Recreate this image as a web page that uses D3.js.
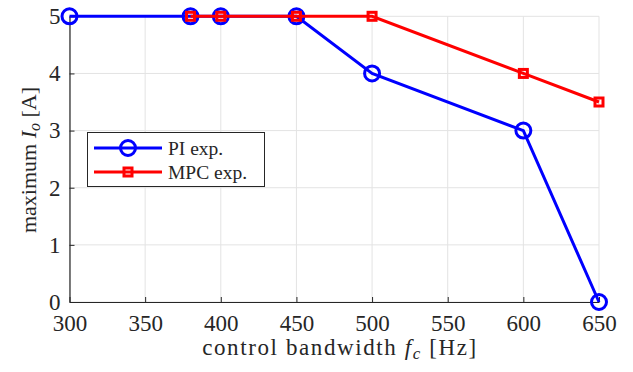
<!DOCTYPE html>
<html><head><meta charset="utf-8">
<script src="https://cdn.jsdelivr.net/npm/d3@7"></script>
<style>body{margin:0;background:#fff}svg{display:block}text{font-family:"Liberation Serif","DejaVu Serif",serif;fill:#262626}</style>
</head><body>
<svg id="c" width="633" height="372"></svg>
<script>
const piX = [300, 380, 400, 450, 500, 600, 650];
const piY = [5, 5, 5, 5, 4, 3, 0];
const mpcX = [380, 400, 450, 500, 600, 650];
const mpcY = [5, 5, 5, 5, 4, 3.5];
const xTicks = [300, 350, 400, 450, 500, 550, 600, 650];
const yTicks = [0, 1, 2, 3, 4, 5];
const seriesNames = ["PI exp.", "MPC exp."];

const svg = d3.select("#c");
const x = d3.scaleLinear().domain([300, 650]).range([69.5, 599]);
const y = d3.scaleLinear().domain([0, 5]).range([302, 16.3]);

// grid
svg.append("g").selectAll("line").data(xTicks).join("line")
  .attr("x1", d => x(d)).attr("x2", d => x(d)).attr("y1", y(0)).attr("y2", y(5))
  .attr("stroke", "#e3e3e3").attr("stroke-width", 1);
svg.append("g").selectAll("line").data(yTicks).join("line")
  .attr("x1", x(300)).attr("x2", x(650)).attr("y1", d => y(d)).attr("y2", d => y(d))
  .attr("stroke", "#e3e3e3").attr("stroke-width", 1);

// axes
const fmt = d3.format("d");
const xa = svg.append("g").attr("transform", `translate(0,${y(0)})`)
  .call(d3.axisBottom(x).tickValues(xTicks).tickFormat(fmt).tickSizeInner(-5).tickSizeOuter(0).tickPadding(13));
const ya = svg.append("g").attr("transform", `translate(${x(300)},0)`)
  .call(d3.axisLeft(y).tickValues(yTicks).tickFormat(fmt).tickSizeInner(-5).tickSizeOuter(0).tickPadding(9));
[xa, ya].forEach(a => {
  a.attr("font-family", null).attr("font-size", null);
  a.select(".domain").attr("stroke", "#262626").attr("stroke-width", 1.2);
  a.selectAll(".tick line").attr("stroke", "#262626");
  a.selectAll("text").style("font-size", "23px").style("font-family", "'Liberation Serif', serif").style("fill", "#262626");
});

// labels
const xl = svg.append("text").attr("x", 340).attr("y", 355).attr("text-anchor", "middle")
  .style("font-size", "23px").style("letter-spacing", "1.6px");
xl.append("tspan").text("control bandwidth ");
xl.append("tspan").attr("font-style", "italic").text("f");
xl.append("tspan").attr("font-style", "italic").style("font-size", "17px").attr("dy", 4).text("c");
xl.append("tspan").attr("dy", -4).text(" [Hz]");

const yl = svg.append("text").attr("transform", "translate(36,160) rotate(-90)").attr("text-anchor", "middle").style("font-size", "22px");
yl.append("tspan").text("maximum ");
yl.append("tspan").attr("font-style", "italic").text("I");
yl.append("tspan").attr("font-style", "italic").style("font-size", "16px").attr("dy", 4).text("o");
yl.append("tspan").attr("dy", -4).text(" [A]");

const line = d3.line().x(d => x(d[0])).y(d => y(d[1]));
const pi = piX.map((v, i) => [v, piY[i]]);
const mpc = mpcX.map((v, i) => [v, mpcY[i]]);

svg.append("path").datum(pi).attr("d", line).attr("fill", "none").attr("stroke", "#0000ff").attr("stroke-width", 3);
svg.append("g").selectAll("circle").data(pi).join("circle")
  .attr("cx", d => x(d[0])).attr("cy", d => y(d[1])).attr("r", 7.5)
  .attr("fill", "none").attr("stroke", "#0000ff").attr("stroke-width", 3);

svg.append("path").datum(mpc).attr("d", line).attr("fill", "none").attr("stroke", "#ff0000").attr("stroke-width", 3);
svg.append("g").selectAll("rect").data(mpc).join("rect")
  .attr("x", d => x(d[0]) - 4).attr("y", d => y(d[1]) - 4).attr("width", 8).attr("height", 8)
  .attr("fill", "none").attr("stroke", "#ff0000").attr("stroke-width", 3);

// legend
const lg = svg.append("g");
lg.append("rect").attr("x", 87.5).attr("y", 132.5).attr("width", 177).attr("height", 54)
  .attr("fill", "#fff").attr("stroke", "#262626").attr("stroke-width", 1);
const rows = [{c: "#0000ff", m: "circle", yy: 148}, {c: "#ff0000", m: "square", yy: 172}];
rows.forEach((r, i) => {
  lg.append("line").attr("x1", 94).attr("x2", 162).attr("y1", r.yy).attr("y2", r.yy).attr("stroke", r.c).attr("stroke-width", 3);
  if (r.m === "circle") lg.append("circle").attr("cx", 128).attr("cy", r.yy).attr("r", 7.5).attr("fill", "none").attr("stroke", r.c).attr("stroke-width", 3);
  else lg.append("rect").attr("x", 124).attr("y", r.yy - 4).attr("width", 8).attr("height", 8).attr("fill", "none").attr("stroke", r.c).attr("stroke-width", 3);
  lg.append("text").attr("x", 168).attr("y", r.yy).attr("dy", "0.35em").style("font-size", "19.5px").text(seriesNames[i]);
});
</script>
</body></html>
